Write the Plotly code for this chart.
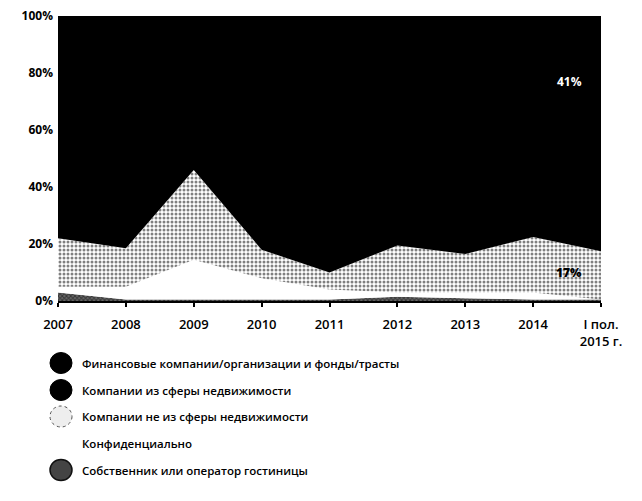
import plotly.graph_objects as go

periods = ["2007", "2008", "2009", "2010", "2011", "2012", "2013", "2014", "I пол.<br>2015 г."]

# shares, % (bottom to top of the stack)
hotel_owner = [3, 0.5, 0.5, 0.5, 0.5, 1.5, 1, 0.5, 0.5]
confidential = [2, 4.5, 14, 7.5, 3.5, 1.5, 2, 2.5, 0]
non_real_estate = [17, 13.5, 31.5, 10, 6, 16.5, 13.5, 19.5, 17]
real_estate = [43, 41.5, 29, 44, 45, 40.5, 41.5, 39.5, 41.5]
financial = [35, 40, 25, 38, 45, 40, 42, 38, 41]

y_ticks = [0, 20, 40, 60, 80, 100]

names = [
    "Финансовые компании/организации и фонды/трасты",
    "Компании из сферы недвижимости",
    "Компании не из сферы недвижимости",
    "Конфиденциально",
    "Собственник или оператор гостиницы",
]

fig = go.Figure()
x = list(range(len(periods)))

fig.add_trace(go.Scatter(x=x, y=hotel_owner, name=names[4], stackgroup="a", groupnorm="percent",
                         mode="none", fillcolor="#333333",
                         fillpattern=dict(shape="x", fgcolor="#000000", bgcolor="#666666", size=3, solidity=0.5)))
fig.add_trace(go.Scatter(x=x, y=confidential, name=names[3], stackgroup="a",
                         mode="none", fillcolor="#ffffff"))
fig.add_trace(go.Scatter(x=x, y=non_real_estate, name=names[2], stackgroup="a",
                         mode="none", fillcolor="#cccccc",
                         fillpattern=dict(shape=".", fgcolor="#000000", bgcolor="#ffffff", size=4, solidity=0.45)))
fig.add_trace(go.Scatter(x=x, y=real_estate, name=names[1], stackgroup="a",
                         mode="lines", line=dict(color="black", width=2.5), fillcolor="#000000"))
fig.add_trace(go.Scatter(x=x, y=financial, name=names[0], stackgroup="a",
                         mode="lines", line=dict(color="black", width=2.5), fillcolor="#000000"))

font_family = "Open Sans"

# value labels for the last period
fig.add_annotation(x=7.53, y=77, xref="x", yref="y",
                   text=f"{financial[-1]}%", showarrow=False,
                   font=dict(family=font_family, size=12, color="white", weight=700))
fig.add_annotation(x=7.53, y=10, xref="x", yref="y",
                   text=f"{non_real_estate[-1]}%", showarrow=False,
                   font=dict(family=font_family, size=12, color="black", weight=800))

# legend drawn manually: circles + text (page pixel positions -> paper coords)
plot_l, plot_w, plot_b, plot_h = 58, 543, 301, 285
legend_y = [363, 390, 416.5, 443, 470]
legend_style = [
    dict(fillcolor="black", line=dict(color="black", width=1)),
    dict(fillcolor="black", line=dict(color="black", width=1)),
    dict(fillcolor="#eeeeee", line=dict(color="#555555", width=1, dash="dot")),
    None,
    dict(fillcolor="#444444", line=dict(color="#111111", width=1.5)),
]
for nm, py, st in zip(names, legend_y, legend_style):
    if st is not None:
        cx, r = 61, 11
        fig.add_shape(type="circle", xref="paper", yref="paper",
                      x0=(cx - r - plot_l) / plot_w, x1=(cx + r - plot_l) / plot_w,
                      y0=(plot_b - py - r + 0.5) / plot_h, y1=(plot_b - py + r - 0.5) / plot_h,
                      fillcolor=st["fillcolor"], line=st["line"])
    fig.add_annotation(x=(80 - plot_l) / plot_w, y=(plot_b - py) / plot_h, xref="paper", yref="paper",
                       text=nm, showarrow=False, xanchor="left", yanchor="middle",
                       font=dict(family=font_family, size=11.5, color="black", weight=600))

# page has an 8px body margin, so the figure is 8px smaller and margins shifted
fig.update_layout(
    width=634, height=493,
    margin=dict(l=50, r=41, t=8, b=200, autoexpand=False),
    paper_bgcolor="white", plot_bgcolor="white",
    showlegend=False,
    font=dict(family=font_family, size=12, color="black"),
)
fig.update_xaxes(
    tickvals=x, ticktext=periods, range=[0, len(periods) - 1],
    showgrid=False, zeroline=False, showline=True, linecolor="black", linewidth=2,
    ticks="outside", ticklen=4, tickcolor="black", tickwidth=1.5,
    ticklabelstandoff=6, ticklabeloverflow="allow",
    tickfont=dict(family=font_family, size=13, color="black", weight=600),
)
fig.update_yaxes(
    range=[0, 100], tickvals=y_ticks, ticktext=[f"{v}%" for v in y_ticks],
    showgrid=False, zeroline=False, showline=False, ticks="",
    ticklabelstandoff=4, ticklabeloverflow="allow",
    tickfont=dict(family=font_family, size=12, color="black", weight=700),
)

fig.write_html("out.html")
